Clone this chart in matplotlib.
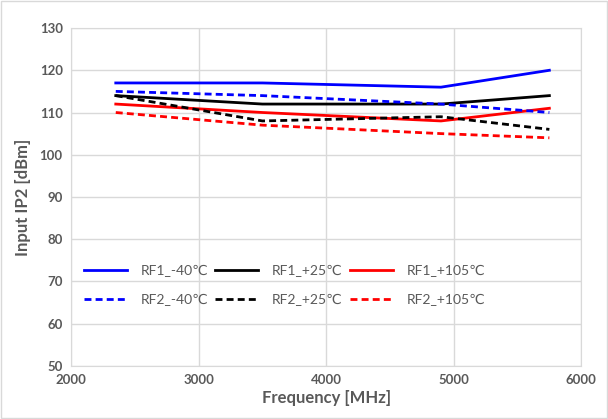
import matplotlib.pyplot as plt

# frequency points (MHz)
freq = [2350, 3500, 4900, 5750]

# input IP2 (dBm) per port / temperature
rf1_m40 = [117, 117, 116, 120]
rf1_p25 = [114, 112, 112, 114]
rf1_p105 = [112, 110, 108, 111]
rf2_m40 = [115, 114, 112, 110]
rf2_p25 = [114, 108, 109, 106]
rf2_p105 = [110, 107, 105, 104]

labels = ["RF1_-40\u2103", "RF1_+25\u2103", "RF1_+105\u2103",
          "RF2_-40\u2103", "RF2_+25\u2103", "RF2_+105\u2103"]

plt.rcParams['font.family'] = ['Lato', 'DejaVu Sans']
grey = "#595959"

fig = plt.figure(figsize=(6.08, 4.19), dpi=100)
ax = fig.add_axes([0.117, 0.127, 0.839, 0.806])

dash = (0, (2.5, 1.5))
lines = []
lines += ax.plot(freq, rf1_m40, color="blue", lw=2, label=labels[0])
lines += ax.plot(freq, rf1_p25, color="black", lw=2, label=labels[1])
lines += ax.plot(freq, rf1_p105, color="red", lw=2, label=labels[2])
lines += ax.plot(freq, rf2_m40, color="blue", lw=2, ls=dash, label=labels[3])
lines += ax.plot(freq, rf2_p25, color="black", lw=2, ls=dash, label=labels[4])
lines += ax.plot(freq, rf2_p105, color="red", lw=2, ls=dash, label=labels[5])

ax.set_xlim(2000, 6000)
ax.set_ylim(50, 130)
ax.set_xticks(range(2000, 6001, 1000))
ax.set_yticks(range(50, 131, 10))
ax.grid(True, color="#d9d9d9", lw=1)
ax.set_axisbelow(True)
for s in ax.spines.values():
    s.set_color("#d9d9d9")
ax.tick_params(length=0, labelsize=9.5, labelcolor=grey, pad=6)
for t in ax.get_xticklabels() + ax.get_yticklabels():
    t.set_fontweight("bold")

ax.set_xlabel("Frequency [MHz]", fontsize=12, fontweight="bold", color=grey, labelpad=3)
ax.set_ylabel("Input IP2 [dBm]", fontsize=12, fontweight="bold", color=grey, labelpad=6)

# legend is filled column by column, so reorder to get rows RF1 / RF2
order = [0, 3, 1, 4, 2, 5]
ax.legend([lines[i] for i in order], [labels[i] for i in order],
          ncol=3, loc="lower left", bbox_to_anchor=(0.0, 0.14), frameon=False,
          fontsize=10, labelcolor=grey, handlelength=3.1, columnspacing=0.5,
          handletextpad=1.0, labelspacing=1.2)

# chart area border
fig.patches.append(plt.Rectangle((0.002, 0.002), 0.996, 0.996, transform=fig.transFigure,
                                 fill=False, edgecolor="#d9d9d9", lw=1))

fig.savefig("out.png", dpi=100)
